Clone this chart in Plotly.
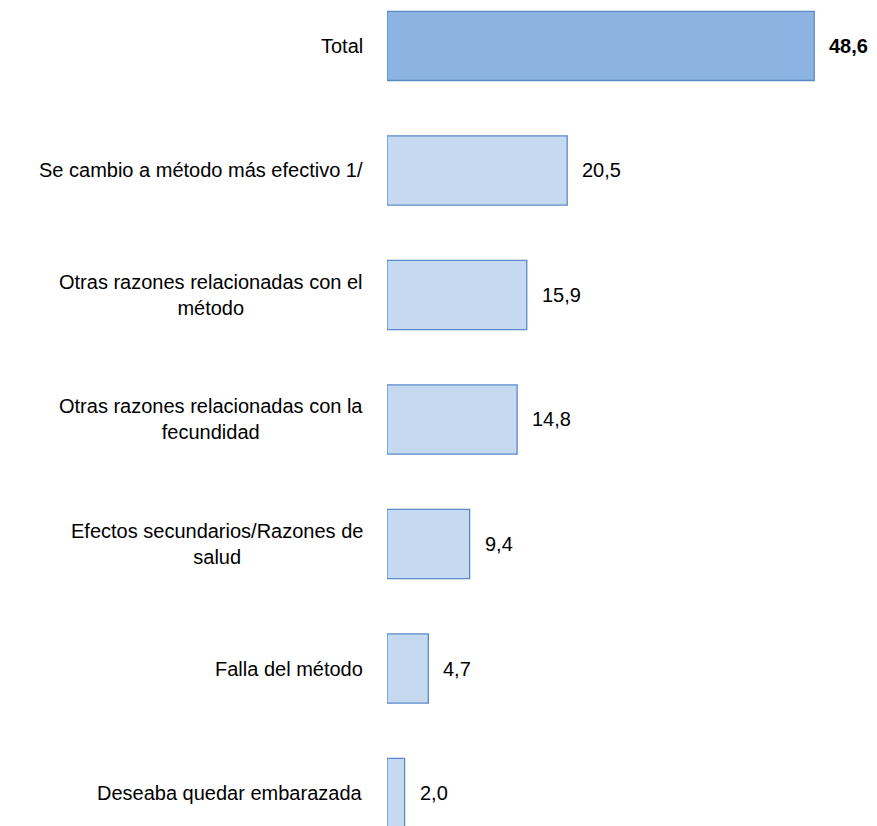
import plotly.graph_objects as go

categories = [
    "Total",
    "Se cambio a método más efectivo 1/",
    "Otras razones relacionadas con el<br>método",
    "Otras razones relacionadas con la<br>fecundidad",
    "Efectos secundarios/Razones de<br>salud",
    "Falla del método",
    "Deseaba quedar embarazada",
]
values = [48.6, 20.5, 15.9, 14.8, 9.4, 4.7, 2.0]
value_labels = ["48,6", "20,5", "15,9", "14,8", "9,4", "4,7", "2,0"]

FONT = "Liberation Sans, Arial, sans-serif"
fill_colors = ["#8DB3E2"] + ["#C5D9F1"] * (len(values) - 1)
line_colors = ["#5A8AC6"] * len(values)

fig = go.Figure()
fig.add_trace(go.Bar(
    x=values,
    y=categories,
    orientation="h",
    width=0.555,
    marker=dict(color=fill_colors, line=dict(color=line_colors, width=1.3)),
    hoverinfo="skip",
))

for i, (c, v, t) in enumerate(zip(categories, values, value_labels)):
    fig.add_annotation(
        x=v, y=c, xref="x", yref="y",
        text=f"<b>{t}</b>" if i == 0 else t,
        showarrow=False, xanchor="left", xshift=13,
        font=dict(family=FONT, size=20, color="#000000"),
    )
    fig.add_annotation(
        x=0, y=c, xref="paper", yref="y",
        text=c, showarrow=False, xanchor="right", align="center",
        xshift=-22,
        font=dict(family=FONT, size=20, color="#000000"),
    )

fig.update_layout(
    width=869, height=818,
    margin=dict(l=379, r=0, t=0, b=0),
    paper_bgcolor="white", plot_bgcolor="white",
    showlegend=False,
    xaxis=dict(range=[0, 490 / 8.79], visible=False, fixedrange=True),
    yaxis=dict(
        type="category",
        categoryorder="array", categoryarray=categories,
        range=[6.265, -0.305],
        showticklabels=False, showgrid=False, zeroline=False, showline=False,
        ticks="",
    ),
)

fig.write_html("out.html")
